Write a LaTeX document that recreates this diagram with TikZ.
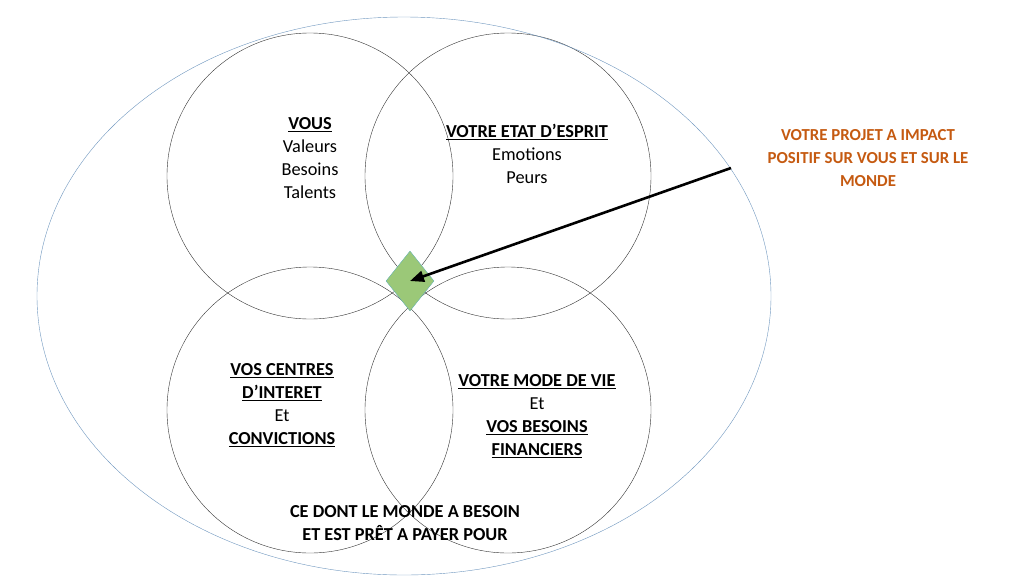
\documentclass[tikz,border=0pt]{standalone}
\usepackage{fontspec}
\setmainfont{Carlito}
\usetikzlibrary{shapes.geometric,arrows.meta}
\definecolor{orangetxt}{RGB}{197,90,17}
\definecolor{diamgreen}{RGB}{155,200,120}
\definecolor{ellblue}{RGB}{110,150,190}
\newcommand{\hd}[1]{\underline{\textbf{#1}}}
\begin{document}
\begin{tikzpicture}[x=1pt,y=-1pt,font=\fontsize{18.3}{23}\selectfont]
    \useasboundingbox (0,0) rectangle (1024,576);

        % cercles
        \begin{scope}[every node/.style={circle,draw=black!80,thin,minimum size=286pt,inner sep=0pt}]
            \node (vous) at (310,176) {};
            \node (esprit) at (508,176) {};
            \node (interet) at (310,410) {};
            \node (vie) at (508,410) {};
        \end{scope}
        \node (monde) [ellipse,draw=ellblue,thin,minimum width=734pt,minimum height=558pt,inner sep=0pt] at (404,296) {};

        \node (projet) [diamond,draw=teal!60,fill=diamgreen,minimum width=48pt,minimum height=60pt,inner sep=0pt,aspect=0.8] at (410,281) {};

        % textes
        \begin{scope}[every node/.style={align=center}]
            \node (tvous) at (310,158) {\hd{VOUS}\\Valeurs\\Besoins\\Talents};
            \node (tesprit) at (527,154) {\hd{VOTRE ETAT D’ESPRIT}\\Emotions\\Peurs};
            \node (tinteret) at (282,405) {\hd{VOS CENTRES}\\\hd{D’INTERET}\\Et\\\hd{CONVICTIONS}};
            \node (tvie) at (537,416) {\hd{VOTRE MODE DE VIE}\\Et\\\hd{VOS BESOINS}\\\hd{FINANCIERS}};
            \node (tmonde) at (405,523) {\textbf{CE DONT LE MONDE A BESOIN}\\\textbf{ET EST PRÊT A PAYER POUR}};
            \node (tprojet) [text=orangetxt,font=\fontsize{16.8}{23}\selectfont\bfseries] at (868,158) {VOTRE PROJET A IMPACT\\POSITIF SUR VOUS ET SUR LE\\MONDE};
        \end{scope}

        \coordinate (depart) at (731,168);
        \draw [-{Triangle[length=14pt,width=11pt]},line width=2.6pt] (depart) -- (projet.center);

\end{tikzpicture}
\end{document}
